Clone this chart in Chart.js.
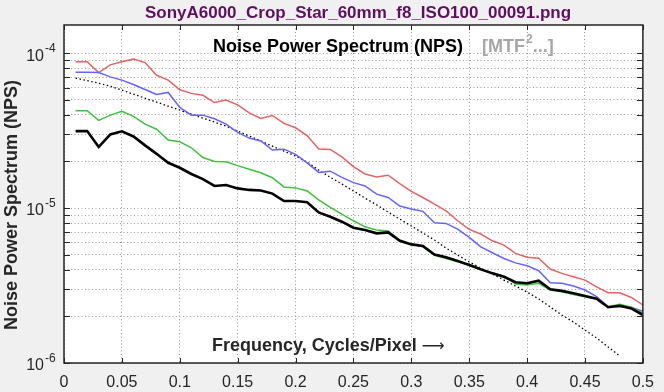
<!DOCTYPE html>
<html>
<head>
<meta charset="utf-8">
<script src="https://cdn.jsdelivr.net/npm/chart.js@4/dist/chart.umd.min.js"></script>
<style>
  body { margin: 0; background: #f0f0f0; }
  #wrap { width: 664px; height: 392px; }
</style>
</head>
<body>
<div id="wrap"><canvas id="npsChart"></canvas></div>
<script>
// frequency, cycles/pixel
let freq = [0.01, 0.02, 0.03, 0.04, 0.05, 0.06, 0.07, 0.08, 0.09, 0.10,
  0.11, 0.12, 0.13, 0.14, 0.15, 0.16, 0.17, 0.18, 0.19, 0.20,
  0.21, 0.22, 0.23, 0.24, 0.25, 0.26, 0.27, 0.28, 0.29, 0.30,
  0.31, 0.32, 0.33, 0.34, 0.35, 0.36, 0.37, 0.38, 0.39, 0.40,
  0.41, 0.42, 0.43, 0.44, 0.45, 0.46, 0.47, 0.48, 0.49, 0.50];

let npsRed = [8.8e-5, 8.8e-5, 7.5e-5, 8.4e-5, 8.8e-5, 9.15e-5, 8.7e-5, 7.2e-5, 6.7e-5, 5.8e-5,
  5.5e-5, 5.35e-5, 4.8e-5, 4.98e-5, 4.64e-5, 4.12e-5, 3.79e-5, 3.96e-5, 3.52e-5, 3.3e-5,
  2.94e-5, 2.41e-5, 2.39e-5, 2.14e-5, 1.85e-5, 1.66e-5, 1.59e-5, 1.63e-5, 1.44e-5, 1.28e-5,
  1.17e-5, 1.06e-5, 9.6e-6, 8.28e-6, 7.29e-6, 6.8e-6, 6.15e-6, 5.77e-6, 5.1e-6, 4.81e-6,
  4.75e-6, 4.04e-6, 3.79e-6, 3.6e-6, 3.43e-6, 3.1e-6, 2.84e-6, 2.84e-6, 2.65e-6, 2.37e-6];

let npsBlue = [7.54e-5, 7.54e-5, 7.5e-5, 7.03e-5, 6.7e-5, 6.28e-5, 5.83e-5, 5.42e-5, 5.58e-5, 4.46e-5,
  3.98e-5, 3.98e-5, 3.77e-5, 3.48e-5, 3.08e-5, 2.83e-5, 2.71e-5, 2.37e-5, 2.4e-5, 2.22e-5,
  1.96e-5, 1.7e-5, 1.73e-5, 1.58e-5, 1.46e-5, 1.39e-5, 1.23e-5, 1.17e-5, 1.03e-5, 9.86e-6,
  9.53e-6, 8.04e-6, 7.96e-6, 7.32e-6, 6.47e-6, 5.62e-6, 5.15e-6, 4.73e-6, 4.43e-6, 4.25e-6,
  3.94e-6, 3.3e-6, 3.27e-6, 3.14e-6, 2.96e-6, 2.68e-6, 2.31e-6, 2.31e-6, 2.29e-6, 2.16e-6];

let npsGreen = [4.25e-5, 4.25e-5, 3.68e-5, 3.98e-5, 4.22e-5, 3.91e-5, 3.48e-5, 3.23e-5, 2.75e-5, 2.68e-5,
  2.45e-5, 2.12e-5, 2.0e-5, 1.99e-5, 1.88e-5, 1.78e-5, 1.69e-5, 1.57e-5, 1.37e-5, 1.35e-5,
  1.29e-5, 1.13e-5, 1.01e-5, 9.14e-6, 8.28e-6, 7.57e-6, 7.21e-6, 7.11e-6, 6.22e-6, 5.86e-6,
  5.62e-6, 4.95e-6, 4.73e-6, 4.51e-6, 4.34e-6, 4.06e-6, 3.83e-6, 3.64e-6, 3.23e-6, 3.19e-6,
  3.27e-6, 2.96e-6, 2.88e-6, 2.77e-6, 2.68e-6, 2.59e-6, 2.31e-6, 2.39e-6, 2.29e-6, 2.09e-6];

let npsLum = [3.14e-5, 3.14e-5, 2.48e-5, 2.99e-5, 3.13e-5, 2.9e-5, 2.54e-5, 2.24e-5, 1.96e-5, 1.82e-5,
  1.66e-5, 1.54e-5, 1.39e-5, 1.41e-5, 1.34e-5, 1.31e-5, 1.3e-5, 1.24e-5, 1.11e-5, 1.11e-5,
  1.09e-5, 9.38e-6, 8.79e-6, 8.17e-6, 7.47e-6, 7.21e-6, 6.87e-6, 6.97e-6, 6.15e-6, 5.83e-6,
  5.69e-6, 5.02e-6, 4.81e-6, 4.55e-6, 4.29e-6, 4.02e-6, 3.79e-6, 3.6e-6, 3.32e-6, 3.27e-6,
  3.4e-6, 2.99e-6, 2.92e-6, 2.82e-6, 2.71e-6, 2.6e-6, 2.29e-6, 2.34e-6, 2.25e-6, 2.04e-6];

// MTF^2 scaled reference (dotted), stops at 0.48
let npsMtf2 = [6.9e-5, 6.65e-5, 6.4e-5, 6.12e-5, 5.77e-5, 5.44e-5, 5.12e-5, 4.83e-5, 4.55e-5, 4.29e-5,
  4.04e-5, 3.81e-5, 3.59e-5, 3.38e-5, 3.14e-5, 2.92e-5, 2.71e-5, 2.51e-5, 2.33e-5, 2.17e-5,
  1.98e-5, 1.76e-5, 1.58e-5, 1.43e-5, 1.29e-5, 1.16e-5, 1.05e-5, 9.42e-6, 8.49e-6, 7.66e-6,
  6.9e-6, 6.22e-6, 5.52e-6, 4.98e-6, 4.49e-6, 4.1e-6, 3.75e-6, 3.43e-6, 3.14e-6, 2.87e-6,
  2.59e-6, 2.3e-6, 2.04e-6, 1.84e-6, 1.63e-6, 1.45e-6, 1.27e-6, 1.11e-6];

let yDecades = [-6, -5, -4];

const FONT = '"Liberation Sans", Arial, Helvetica, sans-serif';

function pts(vals) {
  return vals.map(function (v, i) { return { x: freq[i], y: v }; });
}

// white plot box, inner tick marks, and the MATLAB style texts
const matlabFrame = {
  id: 'matlabFrame',
  beforeDraw(chart) {
    const ctx = chart.ctx, a = chart.chartArea;
    ctx.save();
    ctx.fillStyle = '#f0f0f0';
    ctx.fillRect(0, 0, chart.width, chart.height);
    ctx.fillStyle = '#ffffff';
    ctx.fillRect(a.left, a.top, a.right - a.left, a.bottom - a.top);
    ctx.restore();
  },
  afterDraw(chart) {
    const ctx = chart.ctx, a = chart.chartArea;
    const xs = chart.scales.x, ys = chart.scales.y;
    ctx.save();

    // tick marks inside the box
    ctx.strokeStyle = '#262626';
    ctx.lineWidth = 1;
    ctx.beginPath();
    ys.ticks.forEach(function (t) {
      const y = Math.round(ys.getPixelForValue(t.value)) + 0.5;
      ctx.moveTo(a.left, y); ctx.lineTo(a.left + 6, y);
      ctx.moveTo(a.right - 6, y); ctx.lineTo(a.right, y);
    });
    xs.ticks.forEach(function (t) {
      const x = Math.round(xs.getPixelForValue(t.value)) + 0.5;
      ctx.moveTo(x, a.bottom); ctx.lineTo(x, a.bottom - 5);
      ctx.moveTo(x, a.top); ctx.lineTo(x, a.top + 5);
    });
    ctx.stroke();

    // box
    ctx.lineWidth = 1.5;
    ctx.strokeRect(a.left, a.top, a.right - a.left, a.bottom - a.top);

    // y tick labels 10^n
    ctx.fillStyle = '#262626';
    yDecades.forEach(function (p) {
      const y = ys.getPixelForValue(Math.pow(10, p));
      ctx.textBaseline = 'middle';
      ctx.textAlign = 'right';
      ctx.font = '16px ' + FONT;
      ctx.fillText('10', 44, y + 3);
      ctx.textAlign = 'left';
      ctx.font = '12px ' + FONT;
      ctx.fillText('-' + Math.abs(p), 45, y - 4);
    });

    // file name title
    ctx.textAlign = 'center';
    ctx.textBaseline = 'middle';
    ctx.fillStyle = '#5e0f5e';
    ctx.font = 'bold 17px ' + FONT;
    ctx.fillText('SonyA6000_Crop_Star_60mm_f8_ISO100_00091.png', 358, 13);

    // inner title
    ctx.textAlign = 'left';
    ctx.fillStyle = '#000000';
    ctx.font = 'bold 18px ' + FONT;
    ctx.fillText('Noise Power Spectrum (NPS)', 213, 47);
    ctx.fillStyle = '#a6a6a6';
    let gx = 482;
    ctx.fillText('[MTF', gx, 47);
    gx += ctx.measureText('[MTF').width + 1;
    ctx.font = 'bold 12px ' + FONT;
    ctx.fillText('2', gx, 40);
    gx += ctx.measureText('2').width;
    ctx.font = 'bold 18px ' + FONT;
    ctx.fillText('...]', gx, 47);

    // x axis label, inside the box
    ctx.fillStyle = '#262626';
    ctx.font = 'bold 18px ' + FONT;
    ctx.fillText('Frequency, Cycles/Pixel', 212, 346);
    const lw = ctx.measureText('Frequency, Cycles/Pixel').width;
    ctx.font = '16px "DejaVu Sans", sans-serif';
    ctx.fillText('\u27F6', 212 + lw + 5, 347);

    // y axis label
    ctx.translate(12, 205);
    ctx.rotate(-Math.PI / 2);
    ctx.textAlign = 'center';
    ctx.font = 'bold 18px ' + FONT;
    ctx.fillText('Noise Power Spectrum (NPS)', 0, 0);

    ctx.restore();
  }
};

let ctx = document.getElementById('npsChart');
let chart = new Chart(ctx, {
  type: 'line',
  data: {
    datasets: [{
      label: 'Y (luminance)',
      data: pts(npsLum),
      borderColor: '#000000',
      borderWidth: 2.6
    }, {
      label: 'G',
      data: pts(npsGreen),
      borderColor: '#40c040',
      borderWidth: 1.5
    }, {
      label: 'B',
      data: pts(npsBlue),
      borderColor: '#6464ff',
      borderWidth: 1.5
    }, {
      label: 'R',
      data: pts(npsRed),
      borderColor: '#e36464',
      borderWidth: 1.5
    }, {
      label: 'MTF^2',
      data: pts(npsMtf2),
      borderColor: '#000000',
      borderWidth: 1.3,
      borderDash: [1.5, 2.5]
    }]
  },
  options: {
    responsive: true,
    maintainAspectRatio: false,
    animation: false,
    layout: { padding: { top: 25, right: 12, left: 0, bottom: 0 } },
    elements: {
      point: { radius: 0 },
      line: { tension: 0, fill: false }
    },
    plugins: {
      legend: { display: false },
      title: { display: false },
      tooltip: { enabled: false }
    },
    scales: {
      x: {
        type: 'linear',
        min: 0,
        max: 0.5,
        ticks: {
          stepSize: 0.05,
          padding: 10,
          color: '#262626',
          font: { family: FONT, size: 16 },
          callback: function (v) { return String(+v.toFixed(2)); }
        },
        grid: { color: '#9c9c9c', lineWidth: 1, drawTicks: false },
        border: { display: false, dash: [1, 2.5] },
        afterFit: function (s) { s.height = 29; }
      },
      y: {
        type: 'logarithmic',
        min: 1e-6,
        max: 1.52e-4,
        ticks: { display: false, autoSkip: false },
        grid: { color: '#9c9c9c', lineWidth: 1, drawTicks: false },
        border: { display: false, dash: [1, 2.5] },
        afterBuildTicks: function (s) {
          let t = [];
          for (let e = -6; e <= -4; e++) {
            for (let m = 1; m <= 9; m++) {
              let v = m * Math.pow(10, e);
              if (v <= s.max) t.push({ value: v });
            }
          }
          s.ticks = t;
        },
        afterFit: function (s) { s.width = 64; }
      }
    }
  },
  plugins: [matlabFrame]
});
</script>
</body>
</html>
